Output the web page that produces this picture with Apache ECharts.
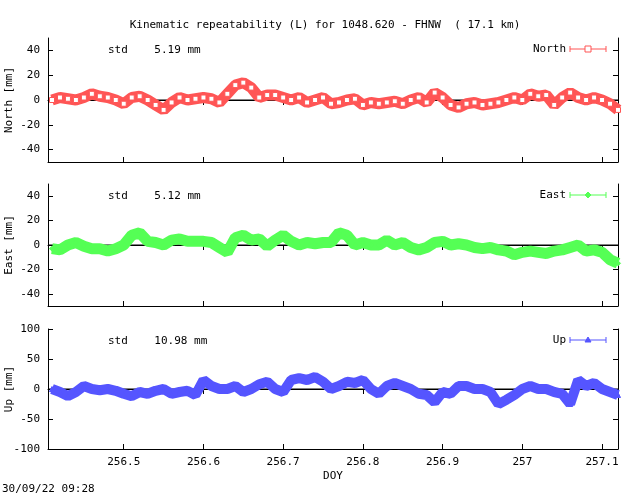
<!DOCTYPE html><html><head><meta charset="utf-8">
<script src="https://cdn.jsdelivr.net/npm/echarts@6/dist/echarts.min.js"></script>
<style>html,body{margin:0;background:#fff}#c{width:640px;height:496px}</style></head><body><div id="c"></div>
<script>
const startDay = 256.41, stepDay = 0.01;
const north = [0,2,1,0,2,5,3,2,0,-3,2,3,0,-4,-8,-2,2,0,1,2,1,-2,5,12,14,10,2,4,4,2,0,2,-2,0,2,-3,-2,0,1,-4,-2,-3,-2,-1,-3,0,2,-2,6,2,-4,-6,-3,-2,-4,-3,-2,0,2,0,5,3,4,-4,2,6,2,0,2,0,-3,-8];
const east = [-3,-4,0,2,-1,-3,-3,-5,-3,0,8,10,3,2,0,4,5,3,3,3,2,-2,-6,6,8,4,5,-1,4,8,3,0,2,1,2,2,10,8,0,2,0,0,4,0,2,-2,-4,-2,2,3,0,1,0,-2,-3,-2,-4,-5,-8,-6,-5,-6,-7,-5,-4,-2,0,-5,-4,-6,-12,-15];
const up = [0,-5,-12,-5,5,0,-2,0,-3,-8,-12,-5,-8,-3,0,-8,-5,-3,-10,15,5,0,0,5,-5,0,8,12,0,-5,15,18,15,20,12,0,5,12,10,15,0,-8,5,10,5,0,-8,-10,-22,-5,-8,5,5,0,0,-5,-25,-18,-10,0,5,0,0,-5,-8,-25,15,5,10,0,-5,-10];
const xTicks = [256.5,256.6,256.7,256.8,256.9,257,257.1];
const yTicks = [[-40,-20,0,20,40],[-40,-20,0,20,40],[-100,-50,0,50,100]];
const stds = ['5.19','5.12','10.98'];
const names = ['North','East','Up'];
const yLabels = ['North [mm]','East [mm]','Up [mm]'];
const colors = ['#ff5555','#55ff55','#5555ff'];
const symbols = ['rect','diamond','triangle'];
const yRanges = [[-50,50],[-50,50],[-100,100]];
const series_vals = [north, east, up];
const F = 'DejaVu Sans Mono';
const grids = [
 {left:48,right:22,top:38,height:124,outerBoundsMode:'none'},
 {left:48,right:22,top:184,height:122,outerBoundsMode:'none'},
 {left:48,right:22,top:329,height:120,outerBoundsMode:'none'}];
const opt = {animation:false,backgroundColor:'#fff',
 title:{text:'Kinematic repeatability (L) for 1048.620 - FHNW  ( 17.1 km)',left:320,textAlign:'center',top:15,textStyle:{fontFamily:F,fontSize:11,fontWeight:'normal',color:'#000'}},
 grid:grids, xAxis:[], yAxis:[], series:[], graphic:[]};
grids.forEach((g,i)=>{
 opt.xAxis.push({gridIndex:i,type:'value',min:256.405,max:257.12,
  axisLine:{onZero:false,lineStyle:{color:'#000'}},splitLine:{show:false},
  axisLabel:{show:i==2,fontFamily:F,fontSize:11,color:'#000',customValues:xTicks,formatter:v=>String(+v.toFixed(1))},
  axisTick:{inside:true,length:5,customValues:xTicks,lineStyle:{color:'#000'}},
  name:i==2?'DOY':'',nameLocation:'middle',nameGap:22,nameTextStyle:{fontFamily:F,fontSize:11,color:'#000'}});
 opt.xAxis.push({gridIndex:i,type:'value',position:'top',min:256.405,max:257.12,axisLine:{lineStyle:{color:'#000'}},axisTick:{inside:true,length:5,customValues:xTicks,lineStyle:{color:'#000'}},axisLabel:{show:false},splitLine:{show:false}});
 const r=yRanges[i];
 opt.yAxis.push({gridIndex:i,type:'value',min:r[0],max:r[1],
  axisLine:{show:true,lineStyle:{color:'#000'}},axisTick:{inside:true,length:5,customValues:yTicks[i],lineStyle:{color:'#000'}},splitLine:{show:false},
  axisLabel:{fontFamily:F,fontSize:11,color:'#000',customValues:yTicks[i]}});
 opt.yAxis.push({gridIndex:i,type:'value',position:'right',min:r[0],max:r[1],axisLine:{show:true,lineStyle:{color:'#000'}},axisTick:{inside:true,length:5,customValues:yTicks[i],lineStyle:{color:'#000'}},axisLabel:{show:false},splitLine:{show:false}});
 const data = series_vals[i].map((v,k)=>[startDay+k*stepDay, v]);
 opt.series.push({type:'line',xAxisIndex:2*i,yAxisIndex:2*i,data:[[256.405,0],[257.12,0]],symbol:'none',lineStyle:{color:'#000',width:1},z:1,silent:true});
 opt.series.push({type:'line',xAxisIndex:2*i,yAxisIndex:2*i,data:data,symbol:symbols[i],symbolSize:5,showAllSymbol:true,
  itemStyle:{color:i==0?'#fff':colors[i],borderColor:colors[i],borderWidth:1},lineStyle:{color:colors[i],width:i==2?10:11,opacity:1},z:3});
 opt.graphic.push({type:'text',rotation:Math.PI/2,x:4,y:g.top+g.height/2,style:{text:yLabels[i],font:'11px '+F,fill:'#000',align:'center',verticalAlign:'top'}});
 opt.graphic.push({type:'text',left:108,top:g.top+7,style:{text:'std    '+stds[i]+' mm',font:'11px '+F,fill:'#000'}});
 opt.graphic.push({type:'text',x:566,y:g.top+6,style:{text:names[i],font:'11px '+F,fill:'#000',align:'right'}});
 const ly=g.top+11;
 const sym = i==0?{type:'rect',shape:{x:585,y:ly-3,width:6,height:6},style:{stroke:colors[i],fill:'#fff',lineWidth:1}}
  : i==1?{type:'polygon',shape:{points:[[588,ly-3],[591,ly],[588,ly+3],[585,ly]]},style:{stroke:colors[i],fill:colors[i]}}
  : {type:'polygon',shape:{points:[[588,ly-3],[591,ly+2],[585,ly+2]]},style:{stroke:colors[i],fill:colors[i]}};
 opt.graphic.push({type:'group',children:[
  {type:'line',shape:{x1:570,y1:ly,x2:606,y2:ly},style:{stroke:colors[i],lineWidth:1}},
  {type:'line',shape:{x1:570,y1:ly-3,x2:570,y2:ly+3},style:{stroke:colors[i],lineWidth:1}},
  {type:'line',shape:{x1:606,y1:ly-3,x2:606,y2:ly+3},style:{stroke:colors[i],lineWidth:1}},sym]});
});
opt.graphic.push({type:'text',left:2,top:484,style:{text:'30/09/22 09:28',font:'11px '+F,fill:'#000'}});
echarts.init(document.getElementById('c')).setOption(opt);
</script></body></html>
